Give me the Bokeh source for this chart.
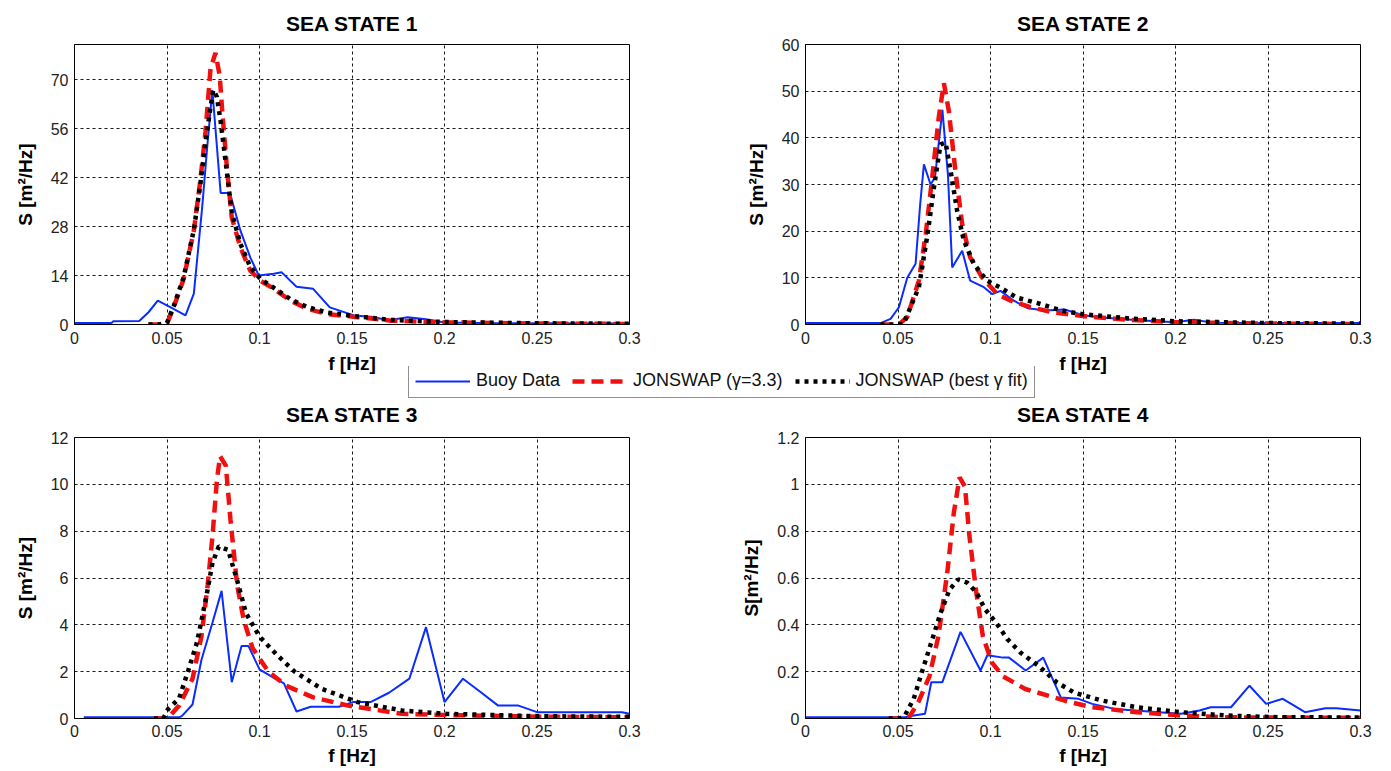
from bokeh.plotting import figure
from bokeh.models import Range1d, FixedTicker, Legend, LegendItem, PrintfTickFormatter
from bokeh.layouts import column, row
from bokeh.embed import file_html
from bokeh.resources import INLINE

# ---------------- data ----------------
x_ticks = [0, 0.05, 0.1, 0.15, 0.2, 0.25, 0.3]
x_tick_labels = ["0", "0.05", "0.1", "0.15", "0.2", "0.25", "0.3"]

titles = ["SEA STATE 1", "SEA STATE 2", "SEA STATE 3", "SEA STATE 4"]
y_labels = ["S [m\u00b2/Hz]", "S [m\u00b2/Hz]", "S [m\u00b2/Hz]", "S[m\u00b2/Hz]"]
y_max = [80, 60, 12, 1.2]
y_ticks1 = [0, 14, 28, 42, 56, 70]
y_ticks2 = [0, 10, 20, 30, 40, 50, 60]
y_ticks3 = [0, 2, 4, 6, 8, 10, 12]
y_ticks4 = [0, 0.2, 0.4, 0.6, 0.8, 1.0, 1.2]
y_tick_labels1 = ["0", "14", "28", "42", "56", "70"]
y_tick_labels2 = ["0", "10", "20", "30", "40", "50", "60"]
y_tick_labels3 = ["0", "2", "4", "6", "8", "10", "12"]
y_tick_labels4 = ["0", "0.2", "0.4", "0.6", "0.8", "1", "1.2"]

series_names = ["Buoy Data", "JONSWAP (\u03b3=3.3)", "JONSWAP (best \u03b3 fit)"]

# Sea state 1
f_buoy1 = [0, 0.02, 0.021, 0.035, 0.040, 0.045, 0.052, 0.060, 0.0645, 0.066, 0.069, 0.0717, 0.0745,
           0.079, 0.084, 0.0897, 0.095, 0.0996, 0.1077, 0.112, 0.120, 0.129, 0.138, 0.151, 0.160,
           0.170, 0.180, 0.190, 0.200, 0.220, 0.300]
s_buoy1 = [0.4, 0.4, 0.9, 1.0, 3.5, 6.8, 4.9, 2.6, 8.8, 17, 33.4, 50.5, 67,
           37.6, 37.6, 26.8, 19.2, 14, 14.5, 14.9, 10.8, 10.2, 4.9, 2.6, 2.2,
           1.2, 2.1, 1.5, 0.6, 0.4, 0.3]
f_jon1 = [0.040, 0.046, 0.050, 0.0536, 0.059, 0.0645, 0.068, 0.0708, 0.0735, 0.0762, 0.0785, 0.080,
          0.0825, 0.085, 0.0897, 0.095, 0.1005, 0.1077, 0.1168, 0.1258, 0.1366, 0.153, 0.171, 0.200,
          0.250, 0.300]
s_jon1 = [0, 0, 0.3, 4.9, 13, 26.8, 41, 55, 73, 77.6, 71, 60,
          44, 30.6, 22, 15.4, 12.5, 10.2, 6.8, 4.5, 3.0, 2.1, 1.1, 0.6,
          0.3, 0.15]
f_fit1 = [0.040, 0.046, 0.050, 0.0536, 0.059, 0.0645, 0.068, 0.0708, 0.0735, 0.075, 0.077, 0.079,
          0.0825, 0.085, 0.0897, 0.095, 0.1005, 0.1077, 0.1168, 0.1258, 0.1366, 0.153, 0.171, 0.200,
          0.250, 0.300]
s_fit1 = [0, 0, 0.5, 5.2, 13.5, 27, 40, 52, 62, 67, 65, 58,
          43, 32, 23, 16.5, 13, 10.5, 7.2, 5.0, 3.4, 2.3, 1.3, 0.7,
          0.35, 0.2]

# Sea state 2
f_buoy2 = [0, 0.0405, 0.046, 0.0505, 0.055, 0.0595, 0.062, 0.064, 0.0676, 0.070, 0.0726, 0.074,
           0.077, 0.0793, 0.0847, 0.089, 0.0964, 0.101, 0.1054, 0.1126, 0.120, 0.130, 0.140, 0.150,
           0.160, 0.180, 0.200, 0.210, 0.220, 0.250, 0.300]
s_buoy2 = [0.3, 0.3, 1.2, 3.7, 10, 13, 25.8, 34.3, 30, 31.5, 41, 46,
           32, 12.2, 15.8, 9.4, 8, 6.5, 7.2, 5.1, 3.5, 3.0, 3.2, 2.0,
           1.5, 0.9, 0.5, 1.0, 0.4, 0.3, 0.3]
f_jon2 = [0.0405, 0.048, 0.051, 0.055, 0.0613, 0.065, 0.0685, 0.072, 0.0748, 0.0775, 0.081, 0.0847,
          0.089, 0.0955, 0.1036, 0.111, 0.1216, 0.134, 0.150, 0.175, 0.200, 0.250, 0.300]
s_jon2 = [0, 0, 0.2, 1.6, 9.4, 19.4, 31.5, 44.3, 51.7, 45.7, 33, 21.5,
          14.4, 10.1, 6.5, 5.1, 3.7, 2.6, 1.8, 1.0, 0.5, 0.2, 0.1]
f_fit2 = [0.0405, 0.050, 0.053, 0.0613, 0.066, 0.0694, 0.073, 0.0757, 0.0784, 0.082, 0.0856, 0.091,
          0.098, 0.105, 0.114, 0.127, 0.138, 0.150, 0.175, 0.200, 0.250, 0.300]
s_fit2 = [0, 0, 0.15, 8, 19.4, 29.3, 38.6, 39, 33, 24.3, 18, 13,
          9.4, 8, 5.8, 4.4, 3.0, 2.2, 1.3, 0.7, 0.3, 0.2]

# Sea state 3
f_buoy3 = [0.005, 0.0565, 0.058, 0.0638, 0.0686, 0.0746, 0.0795, 0.085, 0.0903, 0.094, 0.100, 0.1084,
           0.1132, 0.120, 0.1277, 0.143, 0.1505, 0.160, 0.170, 0.181, 0.190, 0.200, 0.210, 0.220,
           0.229, 0.240, 0.250, 0.296, 0.300]
s_buoy3 = [0.05, 0.05, 0.1, 0.6, 2.5, 4.1, 5.45, 1.55, 3.1, 3.1, 2.1, 1.7,
           1.5, 0.3, 0.5, 0.5, 0.7, 0.7, 1.1, 1.7, 3.9, 0.7, 1.7, 1.1,
           0.55, 0.55, 0.27, 0.27, 0.2]
f_jon3 = [0.043, 0.049, 0.0517, 0.0565, 0.0638, 0.0686, 0.072, 0.0746, 0.077, 0.0787, 0.0818, 0.0843,
          0.0879, 0.0915, 0.0963, 0.1048, 0.1144, 0.129, 0.148, 0.177, 0.200, 0.250, 0.300]
s_jon3 = [0, 0, 0.13, 0.55, 1.7, 3.5, 5.7, 7.8, 10.2, 11.2, 10.8, 8.5,
          5.7, 4.2, 3.0, 2.0, 1.4, 0.9, 0.55, 0.2, 0.15, 0.08, 0.05]
f_fit3 = [0.043, 0.048, 0.0505, 0.0565, 0.0613, 0.0662, 0.071, 0.0746, 0.078, 0.083, 0.0879, 0.0927,
          0.100, 0.1096, 0.119, 0.1338, 0.153, 0.177, 0.201, 0.250, 0.300]
s_fit3 = [0, 0, 0.4, 0.85, 2.0, 3.25, 5.1, 6.65, 7.35, 7.2, 5.9, 4.5,
          3.5, 2.7, 2.0, 1.26, 0.7, 0.34, 0.2, 0.1, 0.07]

# Sea state 4
f_buoy4 = [0, 0.054, 0.0585, 0.0646, 0.068, 0.074, 0.0838, 0.0946, 0.0983, 0.1068, 0.110, 0.119,
           0.1285, 0.138, 0.1476, 0.155, 0.167, 0.191, 0.203, 0.213, 0.219, 0.230, 0.240, 0.249,
           0.258, 0.270, 0.281, 0.287, 0.300]
s_buoy4 = [0.005, 0.005, 0.013, 0.02, 0.155, 0.155, 0.37, 0.205, 0.27, 0.26, 0.26, 0.205,
           0.26, 0.09, 0.084, 0.0625, 0.041, 0.027, 0.02, 0.034, 0.048, 0.048, 0.14, 0.0625,
           0.084, 0.027, 0.044, 0.044, 0.034]
f_jon4 = [0.045, 0.052, 0.056, 0.061, 0.067, 0.0718, 0.0766, 0.0802, 0.0833, 0.0862, 0.0886, 0.0923,
          0.0959, 0.1007, 0.1068, 0.1188, 0.131, 0.143, 0.155, 0.179, 0.203, 0.227, 0.300]
s_jon4 = [0, 0, 0.005, 0.07, 0.18, 0.35, 0.62, 0.88, 1.03, 0.99, 0.78, 0.54,
          0.35, 0.24, 0.18, 0.126, 0.098, 0.07, 0.048, 0.027, 0.013, 0.005, 0.003]
f_fit4 = [0.045, 0.051, 0.0537, 0.0585, 0.063, 0.068, 0.073, 0.0778, 0.0826, 0.0874, 0.0923, 0.097,
          0.103, 0.109, 0.1164, 0.126, 0.1357, 0.1454, 0.160, 0.179, 0.203, 0.227, 0.252, 0.300]
s_fit4 = [0, 0, 0.013, 0.084, 0.2, 0.325, 0.45, 0.55, 0.594, 0.58, 0.54, 0.467,
          0.41, 0.34, 0.28, 0.225, 0.155, 0.11, 0.077, 0.048, 0.027, 0.013, 0.006, 0.004]

# ---------------- style ----------------
FONT = "Liberation Sans"
BLUE = "#0a2cff"
RED = "#f01010"
BLACK = "#000000"


def style_lines(p, fb, sb, fj, sj, ff, sf):
    rb = p.line(fb, sb, line_color=BLUE, line_width=2)
    rj = p.line(fj, sj, line_color=RED, line_width=4.5, line_dash="12 7")
    rf = p.line(ff, sf, line_color=BLACK, line_width=4.5, line_dash="4 5")
    return rb, rj, rf


def make_panel(idx, yticks, ylabels, data, width, height, mbl, mbr, mbt, mbb, bottom_row):
    p = figure(width=width, height=height, x_range=Range1d(0, 0.3), y_range=Range1d(0, y_max[idx]),
               output_backend="svg", toolbar_location=None,
               min_border_left=mbl, min_border_right=mbr, min_border_top=mbt, min_border_bottom=mbb)
    p.border_fill_color = None
    p.background_fill_color = "white"
    p.title.text = titles[idx]
    p.title.align = "center"
    p.title.vertical_align = "bottom"
    p.title.text_font = FONT
    p.title.text_font_style = "bold"
    p.title.text_font_size = "21px"
    p.title.text_color = "black"
    p.title.standoff = 23 if bottom_row else 19

    p.outline_line_color = "black"
    p.outline_line_width = 1
    p.outline_line_alpha = 1

    p.xaxis.ticker = FixedTicker(ticks=x_ticks)
    p.xaxis.formatter = PrintfTickFormatter(format="%g")
    p.xaxis.major_label_overrides = {t: l for t, l in zip(x_ticks, x_tick_labels)}
    p.yaxis.ticker = FixedTicker(ticks=yticks)
    p.yaxis.formatter = PrintfTickFormatter(format="%g")
    p.yaxis.major_label_overrides = {t: l for t, l in zip(yticks, ylabels)}

    p.xaxis.axis_label = "f [Hz]"
    p.yaxis.axis_label = y_labels[idx]
    for ax in (p.xaxis, p.yaxis):
        ax.axis_label_text_font = FONT
        ax.axis_label_text_font_style = "bold"
        ax.axis_label_text_font_size = "19px"
        ax.axis_label_text_color = "black"
        ax.major_label_text_font = FONT
        ax.major_label_text_font_size = "16px"
        ax.major_label_text_color = "#222222"
        ax.major_tick_in = 0
        ax.major_tick_out = 0
        ax.minor_tick_in = 0
        ax.minor_tick_out = 0
        ax.axis_line_color = "black"
        ax.axis_line_width = 1
    p.xaxis.major_label_standoff = 6 if bottom_row else 7
    p.xaxis.axis_label_standoff = 5 if bottom_row else 6
    p.yaxis.major_label_standoff = 6
    p.yaxis.axis_label_standoff = 12

    for g in (p.xgrid, p.ygrid):
        g.grid_line_color = "black"
        g.grid_line_dash = "3 3"
        g.grid_line_width = 1
        g.grid_line_alpha = 0.9

    style_lines(p, *data)
    return p


W_LEFT, W_RIGHT = 695, 680
H_TOP, H_BOT = 380, 381

p1 = make_panel(0, y_ticks1, y_tick_labels1, (f_buoy1, s_buoy1, f_jon1, s_jon1, f_fit1, s_fit1),
                W_LEFT, H_TOP, 66, 74, 43, 56, False)
p2 = make_panel(1, y_ticks2, y_tick_labels2, (f_buoy2, s_buoy2, f_jon2, s_jon2, f_fit2, s_fit2),
                W_RIGHT, H_TOP, 102, 23, 43, 56, False)
p3 = make_panel(2, y_ticks3, y_tick_labels3, (f_buoy3, s_buoy3, f_jon3, s_jon3, f_fit3, s_fit3),
                W_LEFT, H_BOT, 66, 74, 47, 52, True)
p4 = make_panel(3, y_ticks4, y_tick_labels4, (f_buoy4, s_buoy4, f_jon4, s_jon4, f_fit4, s_fit4),
                W_RIGHT, H_BOT, 102, 23, 47, 52, True)

# ---------------- shared legend strip ----------------
# the sample lines re-use sea-state-1 data but sit outside this strip's visible range
leg = figure(width=W_LEFT + W_RIGHT, height=32, x_range=Range1d(10, 11), y_range=Range1d(10, 11),
             output_backend="svg", toolbar_location=None, x_axis_location=None, y_axis_location=None,
             min_border=0, margin=(-14, 0, -9, 0))
leg.grid.visible = False
leg.outline_line_color = None
leg.background_fill_color = None
leg.border_fill_color = None
lb, lj, lf = style_lines(leg, f_buoy1, s_buoy1, f_jon1, s_jon1, f_fit1, s_fit1)
legend = Legend(items=[LegendItem(label=series_names[0], renderers=[lb]),
                       LegendItem(label=series_names[1], renderers=[lj]),
                       LegendItem(label=series_names[2], renderers=[lf])],
                orientation="horizontal", location=(400, 0), margin=0,
                padding=6, spacing=12, glyph_width=55, glyph_height=18, label_height=18,
                label_standoff=6, label_text_font=FONT, label_text_font_size="18px",
                label_text_color="#111111", border_line_color="#222222", border_line_width=1.5,
                background_fill_color="white", background_fill_alpha=1)
leg.add_layout(legend)

layout = column(row(p1, p2), leg, row(p3, p4), margin=(0, 0, 0, 8))

open("out.html", "w").write(file_html(layout, INLINE))
